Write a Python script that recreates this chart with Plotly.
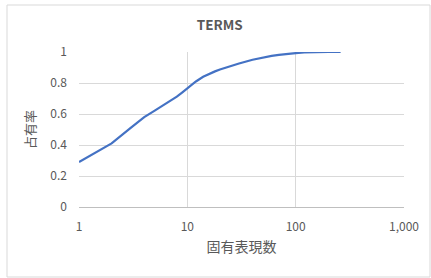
import plotly.graph_objects as go

# Data (estimated)
counts = [1, 2, 3, 4, 5, 6, 7, 8, 9, 10, 12, 14, 16, 18, 20, 25, 30, 40, 50,
          60, 70, 80, 100, 120, 150, 200, 260]
share = [0.29, 0.41, 0.51, 0.58, 0.622, 0.655, 0.683, 0.712, 0.74, 0.765, 0.81,
         0.84, 0.86, 0.875, 0.887, 0.91, 0.926, 0.95, 0.965, 0.975, 0.981, 0.987,
         0.993, 0.998, 1.0, 1.0, 1.0]

x_ticks = [1, 10, 100, 1000]
x_tick_labels = ["1", "10", "100", "1,000"]
y_ticks = [0, 0.2, 0.4, 0.6, 0.8, 1]
y_tick_labels = ["0", "0.2", "0.4", "0.6", "0.8", "1"]

title_text = "TERMS"
x_title = "固有表現数"
y_title = "占有率"

FONT = "Noto Sans CJK JP, Noto Sans, sans-serif"
GRAY = "#595959"

fig = go.Figure()
fig.add_trace(go.Scatter(x=counts, y=share, mode="lines",
                         line=dict(color="#4472C4", width=2.2),
                         showlegend=False, hoverinfo="skip"))

fig.update_layout(
    width=431, height=278,
    margin=dict(l=79, r=27, t=52, b=71),
    paper_bgcolor="white", plot_bgcolor="white",
    font=dict(family=FONT, color=GRAY, size=12),
    title=dict(text="<b>" + title_text + "</b>", x=0.51, xanchor="center",
               y=0.91, yanchor="middle",
               font=dict(size=13.5, color=GRAY, family=FONT)),
    xaxis=dict(type="log", range=[0, 3], tickvals=x_ticks, ticktext=x_tick_labels,
               showgrid=True, gridcolor="#d9d9d9", gridwidth=1,
               showline=True, linecolor="#bfbfbf", linewidth=1,
               zeroline=False, ticks="", tickfont=dict(size=12, color=GRAY),
               ticklabelstandoff=9,
               title=dict(text=x_title, font=dict(size=14, color=GRAY), standoff=8)),
    yaxis=dict(range=[0, 1], tickvals=y_ticks, ticktext=y_tick_labels,
               showgrid=True, gridcolor="#d9d9d9", gridwidth=1,
               zeroline=False, showline=False, ticks="",
               tickfont=dict(size=12, color=GRAY),
               ticklabelstandoff=11,
               title=dict(text=y_title, font=dict(size=13, color=GRAY), standoff=11)),
    shapes=[dict(type="rect", xref="paper", yref="paper",
                 x0=(7 - 79) / 325, x1=(430 - 79) / 325,
                 y0=(207 - 277) / 155, y1=(207 - 5) / 155,
                 line=dict(color="#d9d9d9", width=1), fillcolor="rgba(0,0,0,0)",
                 layer="below")],
)

fig.write_html("out.html", config={"displayModeBar": False},
               post_script="document.body.style.margin='0';document.body.style.overflow='hidden';")
